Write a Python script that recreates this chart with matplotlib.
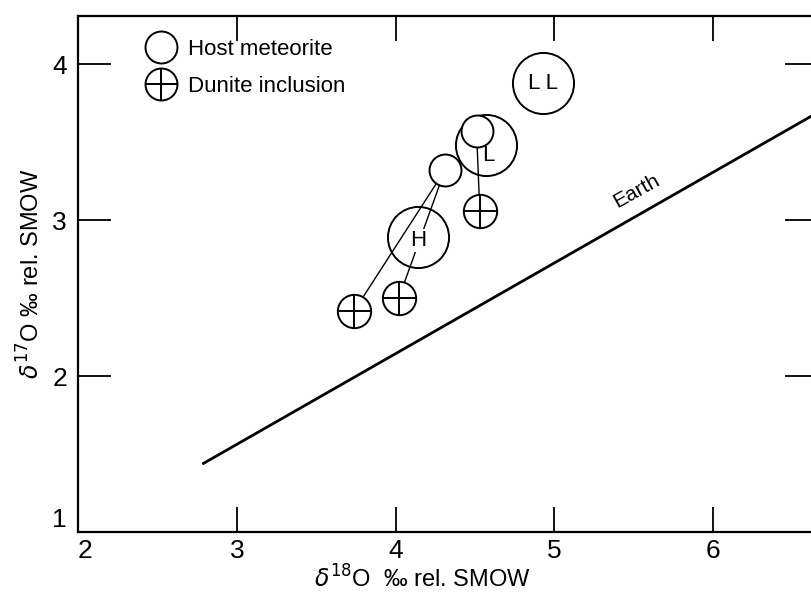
import matplotlib
matplotlib.use("Agg")
import matplotlib.pyplot as plt
from matplotlib.lines import Line2D
from matplotlib.legend_handler import HandlerTuple

plt.rcParams['font.family'] = ['Liberation Sans', 'DejaVu Sans']

# chondrite group means (large circles)
group_names = ["H", "L", "LL"]
group_x = [4.14, 4.57, 4.93]
group_y = [2.89, 3.48, 3.88]

# host meteorites (small circles)
host_x = [4.31, 4.51]
host_y = [3.32, 3.57]

# dunite inclusions
dunite_x = [3.74, 4.02, 4.53]
dunite_y = [2.42, 2.50, 3.06]
dunite_host = [0, 0, 1]   # which host each inclusion belongs to

# terrestrial fractionation line
earth_x = [2.79, 7.0]
earth_y = [1.44, 3.89]

fig = plt.figure(figsize=(8.12, 5.98), dpi=100)
ax = fig.add_axes([78 / 812, 66 / 598, 740 / 812, 516 / 598])
ax.set_xlim(2, 6.66)
ax.set_ylim(1, 4.31)

lw = 1.4
ax.plot(earth_x, earth_y, color='black', lw=2.0, zorder=2)
ax.text(5.52, 3.19, "Earth", rotation=29, fontsize=15, ha='center', va='center')

# tie lines host -> inclusion
for i, h in enumerate(dunite_host):
    ax.plot([host_x[h], dunite_x[i]], [host_y[h], dunite_y[i]], color='black', lw=1.0, zorder=1)

ax.plot(group_x, group_y, 'o', ms=44, mfc='none', mec='black', mew=lw, ls='none', zorder=3)
label_off = {"H": (0, -0.02), "L": (0.015, -0.065), "LL": (0, 0)}
for name, gx, gy in zip(group_names, group_x, group_y):
    dx, dy = label_off[name]
    ax.text(gx + dx, gy + dy, name.replace("LL", "L L"), fontsize=16, ha='center', va='center',
            bbox=dict(facecolor='white', edgecolor='none', pad=1) if name == "H" else None, zorder=7)

ax.plot(host_x, host_y, 'o', ms=23, mfc='white', mec='black', mew=lw, ls='none', zorder=5)
ax.plot(dunite_x, dunite_y, 'o', ms=24, mfc='white', mec='black', mew=lw, ls='none', zorder=5)
ax.plot(dunite_x, dunite_y, '+', ms=24, mec='black', mew=lw, ls='none', zorder=6)

# legend
h_host = Line2D([], [], marker='o', ms=23, mfc='none', mec='black', mew=lw, ls='none')
h_dun_c = Line2D([], [], marker='o', ms=23, mfc='none', mec='black', mew=lw, ls='none')
h_dun_p = Line2D([], [], marker='+', ms=23, mec='black', mew=lw, ls='none')
ax.legend([h_host, (h_dun_c, h_dun_p)], ["Host meteorite", "Dunite inclusion"],
          handler_map={tuple: HandlerTuple(ndivide=1)},
          loc='upper left', bbox_to_anchor=(0.065, 0.995), frameon=False,
          fontsize=16, handletextpad=0.6, labelspacing=0.75, handlelength=1.3)

ax.set_xticks([2, 3, 4, 5, 6])
ax.set_yticks([1, 2, 3, 4])
ax.tick_params(axis='x', direction='in', length=18, width=1.3, top=True, labelsize=19, pad=5)
ax.tick_params(axis='y', direction='in', length=24, width=1.3, right=True, labelsize=19, pad=8)
ax.get_xticklabels()[0].set_horizontalalignment('left')
ax.get_yticklabels()[0].set_verticalalignment('bottom')
for s in ax.spines.values():
    s.set_linewidth(1.6)

ax.set_xlabel(r"$\delta^{18}$O  ‰ rel. SMOW", fontsize=17)
ax.xaxis.set_label_coords(0.465, -0.065)
ax.set_ylabel(r"$\delta^{17}$O ‰ rel. SMOW", fontsize=17)
ax.yaxis.set_label_coords(-0.045, 0.5)

fig.savefig("out.png", dpi=100)
